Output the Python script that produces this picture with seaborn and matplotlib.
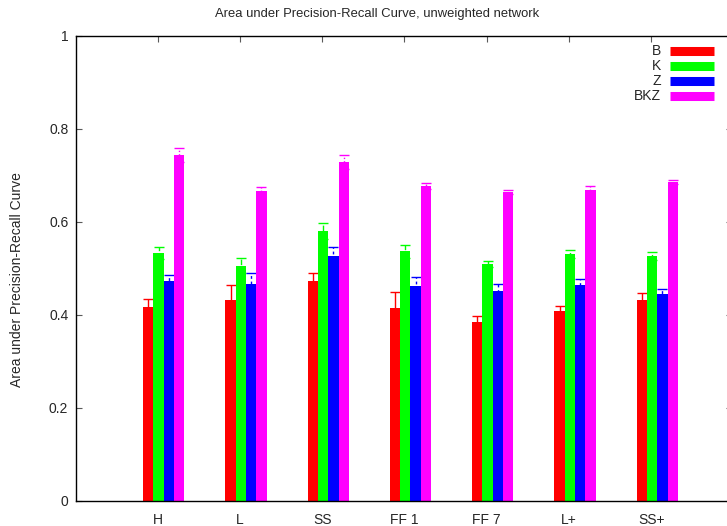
import numpy as np
import pandas as pd
import matplotlib
matplotlib.use("Agg")
import matplotlib.pyplot as plt
import seaborn as sns
from matplotlib.lines import Line2D
from matplotlib.ticker import FuncFormatter

# Data: area under precision-recall curve per method and network variant
categories = ["H", "L", "SS", "FF 1", "FF 7", "L+", "SS+"]
methods = ["B", "K", "Z", "BKZ"]

auc_b = [0.417, 0.432, 0.473, 0.415, 0.385, 0.408, 0.432]
auc_k = [0.533, 0.505, 0.580, 0.537, 0.509, 0.531, 0.526]
auc_z = [0.473, 0.466, 0.526, 0.462, 0.451, 0.464, 0.445]
auc_bkz = [0.743, 0.666, 0.728, 0.677, 0.664, 0.668, 0.685]

err_b = [0.018, 0.032, 0.016, 0.034, 0.012, 0.011, 0.014]
err_k = [0.013, 0.016, 0.017, 0.014, 0.006, 0.008, 0.008]
err_z = [0.012, 0.024, 0.019, 0.019, 0.015, 0.013, 0.010]
err_bkz = [0.015, 0.009, 0.015, 0.006, 0.004, 0.009, 0.005]

yticks = [0, 0.2, 0.4, 0.6, 0.8, 1]

colors = ["#ff0000", "#00ff00", "#0000ff", "#ff00ff"]
err_styles = ["-", (0, (4, 2)), (0, (2, 2)), (0, (1, 1.5))]

values = [auc_b, auc_k, auc_z, auc_bkz]
errors = [err_b, err_k, err_z, err_bkz]

df = pd.DataFrame({
    "network": np.repeat([categories], len(methods), axis=0).ravel(),
    "method": np.repeat(methods, len(categories)),
    "auc": np.concatenate(values),
})

sns.set_theme(style="white")
plt.rcParams["font.family"] = ["Liberation Sans", "DejaVu Sans"]
plt.rcParams["font.size"] = 9

fig = plt.figure(figsize=(7.27, 5.26), dpi=100)
ax = fig.add_axes([76 / 727, 25 / 526, 655.5 / 727, 465.5 / 526])

sns.barplot(data=df, x="network", y="auc", hue="method", order=categories,
            hue_order=methods, palette=colors, saturation=1, width=0.5,
            linewidth=0, errorbar=None, legend=False, ax=ax, zorder=1)

# Error bars at the centre of each drawn bar, partly hidden behind the bars
for cont, errs, col, ls in zip(ax.containers, errors, colors, err_styles):
    xs = [p.get_x() + p.get_width() / 2 for p in cont.patches]
    hs = [p.get_height() for p in cont.patches]
    eb = ax.errorbar(xs, hs, yerr=errs, fmt="none", ecolor=col, elinewidth=1,
                     capsize=3.4, capthick=1, zorder=0.8)
    for lc in eb[2]:
        lc.set_linestyle(ls)

# Tick labels sit slightly left of the cluster centre
shift = 0.073
ax.set_xticks(np.arange(len(categories)) - shift)
ax.set_xticklabels(categories)
ax.set_xlim(-0.994 - shift, 6.976 - shift)
ax.set_ylim(0, 1)
ax.set_yticks(yticks)
ax.yaxis.set_major_formatter(FuncFormatter(lambda v, p: "%g" % v))
ax.set_xlabel("")
ax.set_ylabel("")
ax.set_axisbelow(True)

ax.tick_params(axis="both", which="major", direction="in", length=4.5,
               width=0.8, color="0.35", labelsize=10, top=True, right=True,
               bottom=True, left=True)
ax.tick_params(axis="y", pad=5.5)
ax.tick_params(axis="x", pad=8.3)
for s in ax.spines.values():
    s.set_color("black")
    s.set_linewidth(1.0)

# Title and axis label
fig.text(377.5 / 727, 1 - 14 / 526,
         "Area under Precision-Recall Curve, unweighted network",
         ha="center", va="center", fontsize=9.4)
fig.text(16.7 / 727, 1 - 280 / 526, "Area under Precision-Recall Curve",
         rotation=90, ha="center", va="center", fontsize=10)

# Key in the upper right: label to the left of a thick colour sample
key_rows = [50.7, 65.7, 80.7, 95.7]
for name, col, yk in zip(methods, colors, key_rows):
    fy = 1 - yk / 526
    fig.text(661 / 727, fy, name, ha="right", va="center", fontsize=10)
    fig.add_artist(Line2D([670 / 727, 714 / 727], [fy, fy], color=col,
                          linewidth=6.5, solid_capstyle="butt",
                          transform=fig.transFigure))

fig.savefig("out.png", dpi=100)
